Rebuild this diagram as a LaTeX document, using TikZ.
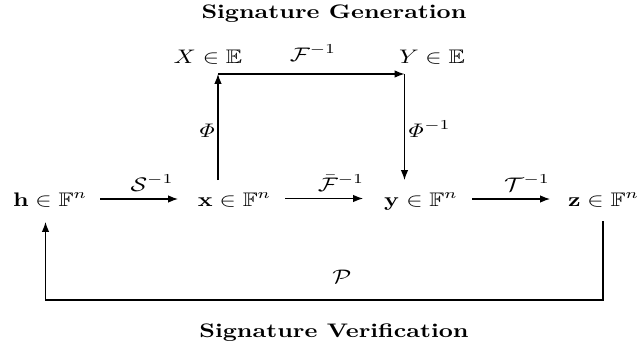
\documentclass[tikz,border=0pt]{standalone}
\usepackage{amsmath,amssymb}
\usetikzlibrary{arrows.meta}
\begin{document}
\begin{tikzpicture}[x=0.408pt,y=-0.408pt,
  lbl/.style={anchor=base,inner sep=0pt,yscale=0.8},
  arr/.style={-{Latex[length=4pt,width=3pt]},line width=0.45pt}]
\useasboundingbox (0,0) rectangle (640,350);
% titles
\node[lbl] (gen) at (334,18) {\textbf{Signature Generation}};
\node[lbl] (ver) at (334,337) {\textbf{Signature Verification}};
% top row
\node[lbl] (X) at (208,63) {$X\in\mathbb{E}$};
\node[lbl] (Y) at (432,63) {$Y\in\mathbb{E}$};
\node[lbl] (F) at (313,61) {$\mathcal{F}^{-1}$};
% main row
\node[lbl] (h) at (50,206) {$\mathbf{h}\in\mathbb{F}^n$};
\node[lbl] (x) at (234.5,206) {$\mathbf{x}\in\mathbb{F}^n$};
\node[lbl] (y) at (421,206) {$\mathbf{y}\in\mathbb{F}^n$};
\node[lbl] (z) at (603.5,206) {$\mathbf{z}\in\mathbb{F}^n$};
% labels
\node[lbl] (S) at (152,191) {$\mathcal{S}^{-1}$};
\node[lbl] (Fb) at (341,191) {$\bar{\mathcal{F}}^{-1}$};
\node[lbl] (T) at (527,191) {$\mathcal{T}^{-1}$};
\node[lbl] (Phi) at (206,137) {$\mathit{\Phi}$};
\node[lbl] (Phii) at (428,137) {$\mathit{\Phi}^{-1}$};
\node[lbl] (P) at (342,283) {$\mathcal{P}$};
% coordinates
\coordinate (hs) at (100,199);
\coordinate (xe) at (178,199);
\coordinate (xs) at (285,198.5);
\coordinate (ye) at (363,198.5);
\coordinate (ys) at (472,199);
\coordinate (ze) at (550,199);
\coordinate (xu) at (218,180);
\coordinate (c1) at (218,74);
\coordinate (c2) at (404.5,74);
\coordinate (yd) at (404.5,180);
\coordinate (zb) at (603,221);
\coordinate (c3) at (603,300);
\coordinate (c4) at (45.5,300);
\coordinate (hb) at (45.5,222);
% arrows
\draw[arr] (hs) -- (xe);
\draw[arr] (xs) -- (ye);
\draw[arr] (ys) -- (ze);
\draw[arr] (xu) -- (c1);
\draw[arr] (c1) -- (c2);
\draw[arr] (c2) -- (yd);
\draw[arr] (zb) -- (c3) -- (c4) -- (hb);
\end{tikzpicture}
\end{document}
